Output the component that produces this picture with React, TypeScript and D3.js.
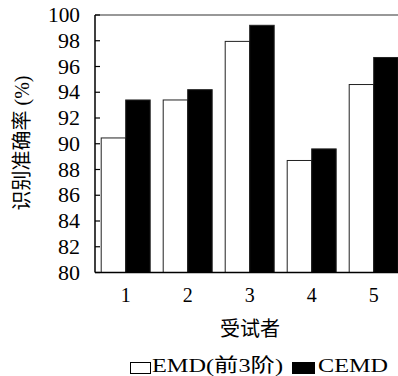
import React from 'react';
import * as d3 from 'd3';

const subjects = ['1', '2', '3', '4', '5'];
const seriesNames = ['EMD(前3阶)', 'CEMD'];
const emdValues = [90.45, 93.4, 97.95, 88.7, 94.6];
const cemdValues = [93.4, 94.2, 99.2, 89.6, 96.7];
const yTicks = [80, 82, 84, 86, 88, 90, 92, 94, 96, 98, 100];
const seriesFill = ['#ffffff', '#000000'];

const W = 398, H = 376;
const left = 95, top = 15, bottom = 272.5;
const step = 62;

export default function App() {
  const x0 = d3.scaleBand<string>().domain(subjects)
    .range([left, left + step * 4.99]).paddingInner(0.21).paddingOuter(0.1);
  const x1 = d3.scaleBand<string>().domain(seriesNames).range([0, x0.bandwidth()]);
  const y = d3.scaleLinear().domain([80, 100]).range([bottom, top]);
  const right = left + step * 4.99;
  const serif = 'Liberation Serif, DejaVu Serif, serif';
  const cjk = 'Liberation Serif, Noto Sans CJK SC, serif';
  const data = [emdValues, cemdValues];

  return (
    <svg width={W} height={H} style={{ position: 'absolute', left: 0, top: 0, background: '#fff' }}>
      {subjects.map((s, i) => (
        <g key={s}>
          {seriesNames.map((n, j) => (
            <rect key={n}
              x={(x0(s) as number) + (x1(n) as number)}
              y={y(data[j][i])}
              width={x1.bandwidth()}
              height={bottom - y(data[j][i])}
              fill={seriesFill[j]} stroke="#222" strokeWidth={1} />
          ))}
        </g>
      ))}
      <line x1={left} x2={right} y1={top} y2={top} stroke="#333" strokeWidth={1.2} />
      <line x1={left} x2={right} y1={bottom} y2={bottom} stroke="#000" strokeWidth={1.5} />
      <line x1={left} x2={left} y1={top} y2={bottom} stroke="#000" strokeWidth={1.5} />
      {yTicks.map(t => (
        <g key={t}>
          <line x1={left} x2={left + 5} y1={y(t)} y2={y(t)} stroke="#000" strokeWidth={1.2} />
          <text x={80} y={y(t) + 7} textAnchor="end" fontFamily={serif} fontSize={20}
            textLength={t === 100 ? 32 : 22} lengthAdjust="spacingAndGlyphs">{t}</text>
        </g>
      ))}
      {subjects.map(s => (
        <text key={s} x={(x0(s) as number) + x0.bandwidth() / 2} y={302} textAnchor="middle"
          fontFamily={serif} fontSize={20}>{s}</text>
      ))}
      <text x={250} y={336} textAnchor="middle" fontFamily={cjk} fontSize={20}>受试者</text>
      <text transform="translate(29,143) rotate(-90)" textAnchor="middle" fontFamily={cjk} fontSize={20}>识别准确率 (%)</text>
      <rect x={130.5} y={362.5} width={20} height={11} fill={seriesFill[0]} stroke="#000" strokeWidth={1} />
      <text x={152} y={372} fontFamily={cjk} fontSize={19} textLength={131} lengthAdjust="spacingAndGlyphs">{seriesNames[0]}</text>
      <rect x={292} y={362} width={23} height={12} fill={seriesFill[1]} />
      <text x={318} y={372} fontFamily={serif} fontSize={19} textLength={70} lengthAdjust="spacingAndGlyphs">{seriesNames[1]}</text>
    </svg>
  );
}
